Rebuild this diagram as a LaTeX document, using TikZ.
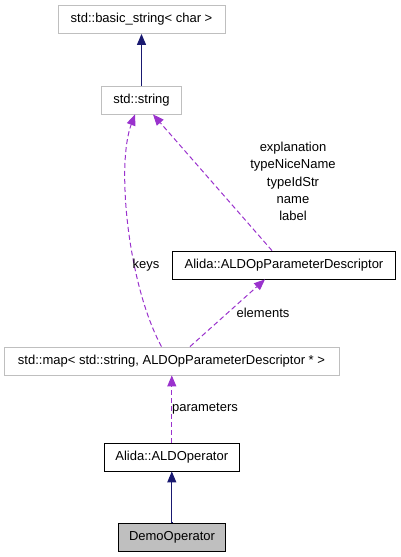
\documentclass[tikz,border=0pt]{standalone}
\usepackage{fontspec}
\setmainfont{Liberation Sans}
\usetikzlibrary{arrows.meta}
\definecolor{boxgray}{HTML}{BFBFBF}
\definecolor{edgepurple}{HTML}{9A32CD}
\definecolor{edgenavy}{HTML}{191970}
\begin{document}
\begin{tikzpicture}[x=1pt,y=-1pt,
  every node/.style={font=\fontsize{13}{15}\selectfont, inner sep=0pt},
  box/.style={draw=black, line width=0.8pt, fill=white, minimum height=28pt},
  graybox/.style={draw=boxgray, line width=0.8pt, fill=white, minimum height=28pt},
  inherit/.style={draw=edgenavy, line width=1pt, -{Triangle[length=11pt,width=9pt]}},
  usage/.style={draw=edgepurple, line width=1pt, dash pattern=on 5pt off 3pt, -{Triangle[length=11pt,width=9pt]}},
  elabel/.style={align=center, font=\fontsize{13}{17.3}\selectfont}]
\useasboundingbox (0,0) rectangle (400,557);
\node[graybox, minimum width=167pt] (bs) at (141.5,19.5) {std::basic\_string< char >};
\node[graybox, minimum width=80pt] (str) at (141.5,100) {std::string};
\node[box, minimum width=223pt] (desc) at (284,265) {Alida::ALDOpParameterDescriptor};
\node[graybox, minimum width=335pt] (map) at (171.5,361) {std::map< std::string, ALDOpParameterDescriptor * >};
\node[box, minimum width=135pt] (op) at (171.8,457) {Alida::ALDOperator};
\node[box, fill=boxgray, minimum width=107pt] (demo) at (172,537) {DemoOperator};
\draw[inherit] (str.north) -- (bs.south);
\draw[inherit] (demo.north) -- (op.north |- demo.north) -- (op.south);
\draw[usage] ([xshift=-10pt]map.north) .. controls (128,285) and (116,165) .. ([xshift=-6.5pt]str.south);
\draw[usage] ([xshift=-12pt]desc.north) -- ([xshift=11.5pt]str.south);
\draw[usage] ([xshift=18.5pt]map.north) -- ([xshift=-19pt]desc.south);
\draw[usage] (op.north) -- (op.north |- map.south);
\node[elabel] (lkeys) at (146,265) {keys};
\node[elabel] (ldesc) at (293,181.5) {explanation\\typeNiceName\\typeIdStr\\name\\label};
\node[elabel] (lelem) at (263,313) {elements};
\node[elabel] (lparam) at (205,408.5) {parameters};
\end{tikzpicture}
\end{document}
